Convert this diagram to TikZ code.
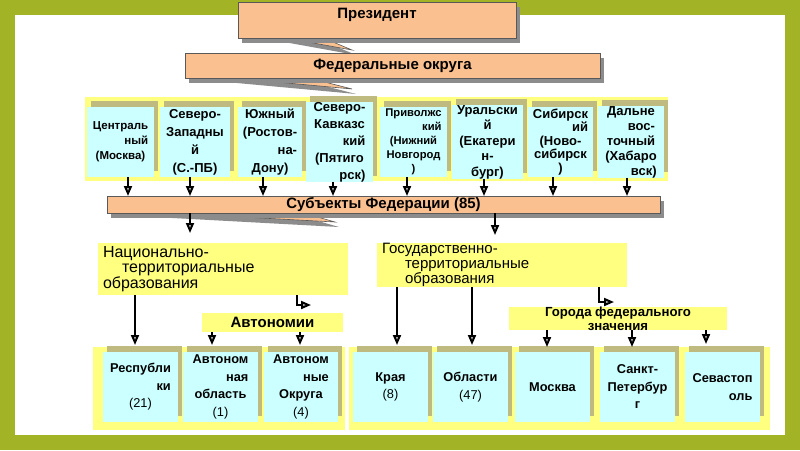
\documentclass[tikz,border=0pt]{standalone}
\usepackage{fontspec}
\setmainfont{Liberation Sans}
\usetikzlibrary{arrows.meta,shadows}
\definecolor{frame}{RGB}{162,179,38}
\definecolor{calloutfill}{RGB}{250,192,143}
\definecolor{stripyellow}{RGB}{255,255,128}
\definecolor{boxcyan}{RGB}{204,255,255}
\definecolor{boxshade}{RGB}{190,186,128}
\begin{document}
\begin{tikzpicture}[x=1pt,y=-1pt,inner sep=0pt,outer sep=0pt,
callout/.style={draw=black!65,fill=calloutfill,line width=0.6pt,drop shadow={fill=black!45,opacity=1,shadow xshift=4pt,shadow yshift=-5pt}},
strip/.style={fill=stripyellow},
okrug/.style={fill=boxcyan,align=center,minimum width=#1,minimum height=70,font=\bfseries\fontsize{13}{16}\selectfont,general shadow={fill=boxshade,shadow xshift=4pt,shadow yshift=6pt}},
lowtext/.style={font=\bfseries\fontsize{12.8}{17.5}\selectfont},
link/.style={line width=1.1pt,-{Triangle[open,length=10pt,width=8pt,line width=1.9pt,fill=black!35]}},
biglink/.style={link,line width=2pt}]
\useasboundingbox (0,0) rectangle (800,450);
\fill[frame] (0,0) rectangle (800,450);
\fill[white] (15,15) rectangle (785,435);
\path[callout] (280,37) -- (352,50) -- (321,37) -- cycle;
\node[callout,minimum width=278,minimum height=36,text depth=12.5pt,font=\bfseries\fontsize{15}{17}\selectfont] (pres) at (377,20) {Президент};
\path[callout] (222,77) -- (352,89) -- (305,77) -- cycle;
\node[callout,minimum width=415,minimum height=25,font=\bfseries\fontsize{15}{17}\selectfont] (fed) at (392.5,65.5) {Федеральные округа};
\node[strip,minimum width=583,minimum height=84] (okruga) at (376.5,139) {};
\node[okrug=67,font=\bfseries\fontsize{11.5}{15}\selectfont] (d1) at (120.5,142) {Централь\\\hfill ный\\(Москва)};
\node[okrug=70,font=\bfseries\fontsize{13}{18}\selectfont] (d2) at (195,142) {Северо-\\Западны\\й\\(С.-ПБ)};
\node[okrug=64,font=\bfseries\fontsize{13}{18}\selectfont] (d3) at (270,142) {Южный\\(Ростов-\\\hfill на-\\Дону)};
\node[okrug=67,font=\bfseries\fontsize{13}{17}\selectfont] (d4) at (339.5,142) {Северо-\\Кавказс\\\hfill кий\\(Пятиго\\\hfill рск)};
\node[okrug=67,font=\bfseries\fontsize{11.2}{14}\selectfont] (d5) at (413.5,142) {Приволжс\\\hfill кий\\(Нижний\\Новгород\\)};
\node[okrug=71,font=\bfseries\fontsize{13}{15.5}\selectfont] (d6) at (487.5,142) {Уральски\\й\\(Екатери\\н-\\бург)};
\node[okrug=65,font=\bfseries\fontsize{13}{13.5}\selectfont] (d7) at (560.5,142) {Сибирск\\\hfill ий\\(Ново-\\сибирск\\)};
\node[okrug=66,font=\bfseries\fontsize{13}{15}\selectfont] (d8) at (631,142) {Дальне\\\hfill вос-\\точный\\(Хабаро\\\hfill вск)};
\path[callout] (150,212) -- (335,222) -- (300,212) -- cycle;
\node[callout,minimum width=553,minimum height=17,font=\bfseries\fontsize{15}{17}\selectfont] (subj) at (383.5,204.5) {Субъекты Федерации (85)};
\node[strip,minimum width=250,minimum height=52,text width=240pt,align=left,font=\fontsize{16}{15}\selectfont] (nat) at (223,269) {Национально-\\\hspace*{19pt}территориальные\\образования};
\node[strip,minimum width=250,minimum height=44,text width=240pt,align=left,font=\fontsize{15}{15}\selectfont] (gos) at (502,265) {Государственно-\\\hspace*{23pt}территориальные\\\hspace*{23pt}образования};
\node[strip,minimum width=141,minimum height=19,font=\bfseries\fontsize{15}{17}\selectfont] (avt) at (272.5,322.5) {Автономии};
\node[strip,minimum width=218,minimum height=19,align=center,font=\bfseries\fontsize{13.2}{14}\selectfont] (gor) at (618,318.5) {Города федерального\\значения};
\node[strip,minimum width=252,minimum height=83] (stripL) at (219,388.5) {};
\node[strip,minimum width=421,minimum height=83] (stripR) at (559.5,388.5) {};
\node[okrug=75,lowtext] (resp) at (140.5,387) {Республи\\\hfill ки\\\mdseries(21)};
\node[okrug=75,lowtext] (avobl) at (220.5,387) {Автоном\\\hfill ная\\область\\\mdseries(1)};
\node[okrug=74,lowtext] (avokr) at (301,387) {Автоном\\\hfill ные\\Округа\\\mdseries(4)};
\node[okrug=75,lowtext] (kraya) at (390.5,387) {Края\\\mdseries(8)};
\node[okrug=75,lowtext] (obl) at (470.5,387) {Области\\\mdseries(47)};
\node[okrug=75,lowtext] (msk) at (552.5,387) {Москва};
\node[okrug=75,lowtext] (spb) at (637.5,387) {Санкт-\\Петербур\\г};
\node[okrug=75,lowtext] (sev) at (722.5,387) {Севастоп\\\hfill оль};
\foreach \d/\ax in {d1/128,d2/190,d3/263,d4/333,d5/407,d6/484,d7/553,d8/627}
  \draw[link] (\d.south -| \ax,0) -- (subj.north -| \ax,0);
\draw[link,shorten >=10pt] (subj.south -| 190,0) -- (nat.north -| 190,0);
\draw[link,shorten >=8pt] (subj.south -| 495,0) -- (gos.north -| 495,0);
\coordinate (avtin) at (311,305);
\coordinate (gorin) at (614,302);
\draw[biglink,shorten >=2pt] (nat.south -| 135,0) -- (stripL.north -| 135,0);
\draw[link] (nat.south -| 297,0) |- (avtin);
\draw[link,shorten >=2pt] (avt.south -| 212,0) -- (stripL.north -| 212,0);
\draw[link,shorten >=2pt] (avt.south -| 300,0) -- (stripL.north -| 300,0);
\draw[biglink,shorten >=2pt] (gos.south -| 397,0) -- (stripR.north -| 397,0);
\draw[biglink,shorten >=2pt] (gos.south -| 472,0) -- (stripR.north -| 472,0);
\draw[link] (gos.south -| 599,0) |- (gorin);
\draw[link] (gor.south -| 547,0) -- (stripR.north -| 547,0);
\draw[link] (gor.south -| 632,0) -- (stripR.north -| 632,0);
\draw[link,shorten >=3pt] (gor.south -| 706,0) -- (stripR.north -| 706,0);
\end{tikzpicture}
\end{document}
